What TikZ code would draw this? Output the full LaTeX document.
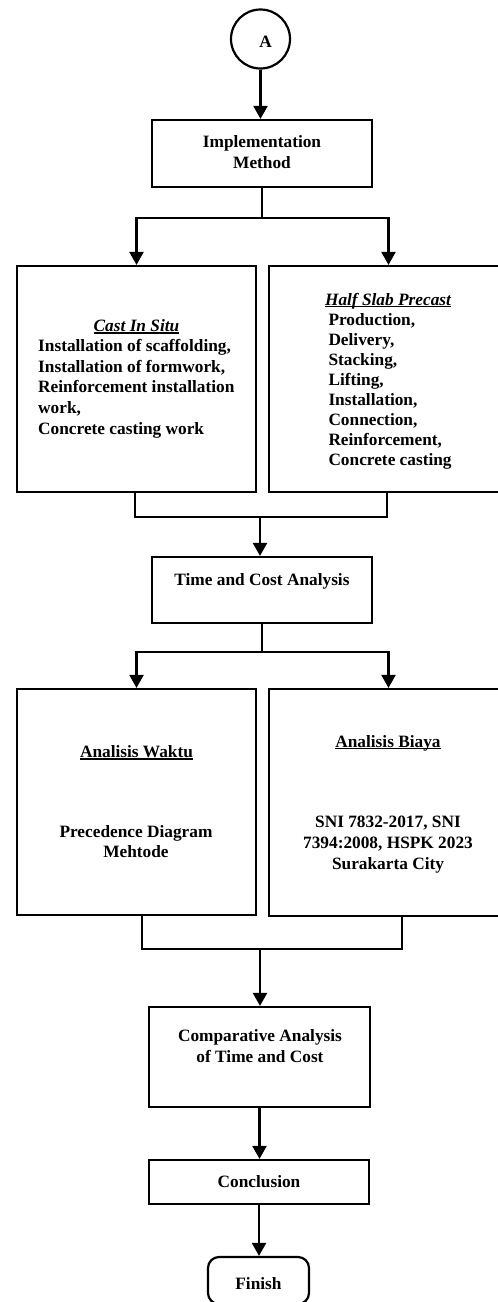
\documentclass[tikz,border=0pt]{standalone}
\usepackage{fontspec}
\setmainfont{Liberation Serif}
\usetikzlibrary{arrows.meta,calc}
\newcommand{\myul}[1]{\setbox0\hbox{#1}\rlap{\rule[-2.2pt]{\wd0}{1.3pt}}\box0}
\tikzset{
  box/.style={draw, line width=2.2pt, inner sep=0pt, rectangle},
  txt/.style={inner sep=0pt, font=\fontsize{17.3}{20.7}\bfseries\selectfont},
  conn/.style={line width=2.2pt},
  arr/.style={line width=2.2pt, -{Triangle[width=14pt,length=13pt]}}
}
\begin{document}
\begin{tikzpicture}[x=1pt,y=-1pt]
\useasboundingbox (0,0) rectangle (498,1302);
\clip (0,0) rectangle (498,1302);
% boxes
\node[box, circle, minimum size=59pt] (A) at (260.5,39) {};
\node[box, minimum width=220pt, minimum height=67pt] (impl) at (262,153.5) {};
\node[box, minimum width=239pt, minimum height=226pt] (cis) at (136.5,379) {};
\node[box, minimum width=239pt, minimum height=226pt] (hsp) at (388.5,379) {};
\node[box, minimum width=220pt, minimum height=66pt] (tca) at (262,590) {};
\node[box, minimum width=239pt, minimum height=226pt] (aw) at (136.5,802) {};
\node[box, minimum width=239pt, minimum height=227pt] (ab) at (388.5,802.5) {};
\node[box, minimum width=221pt, minimum height=100pt] (cmp) at (259.5,1057) {};
\node[box, minimum width=220pt, minimum height=44pt] (con) at (259,1182) {};
\node[box, rounded corners=11pt, minimum width=101pt, minimum height=47pt] (fin) at (258.5,1280.5) {};
% texts (base anchor = baseline of the last line)
\node[txt, anchor=base] (tA) at (265.5,47) {A};
\node[txt, font=\fontsize{17.3}{21}\bfseries\selectfont, anchor=base, align=center] (timpl) at (262,168.5) {Implementation\\Method};
\node[txt, anchor=base] (tcis) at (136.5,331.5) {\myul{\itshape Cast In Situ}};
\node[txt, anchor=base west, align=left] (tcisl) at (38,434.3) {Installation of scaffolding,\\Installation of formwork,\\Reinforcement installation\\work,\\Concrete casting work};
\node[txt, anchor=base] (thsp) at (388,305) {\myul{\itshape Half Slab Precast}};
\node[txt, font=\fontsize{17.3}{20}\bfseries\selectfont, anchor=base west, align=left] (thspl) at (328.3,465.5) {Production,\\Delivery,\\Stacking,\\Lifting,\\Installation,\\Connection,\\Reinforcement,\\Concrete casting};
\node[txt, anchor=base] (ttca) at (262,585) {Time and Cost Analysis};
\node[txt, anchor=base] (taw) at (136.5,757.5) {\myul{Analisis Waktu}};
\node[txt, font=\fontsize{17.3}{20.5}\bfseries\selectfont, anchor=base, align=center] (tawl) at (136,857.5) {Precedence Diagram\\Mehtode};
\node[txt, anchor=base] (tab) at (388,747) {\myul{Analisis Biaya}};
\node[txt, font=\fontsize{17.3}{21}\bfseries\selectfont, anchor=base, align=center] (tabl) at (388,869) {SNI 7832-2017, SNI\\7394:2008, HSPK 2023\\Surakarta City};
\node[txt, font=\fontsize{17.3}{21}\bfseries\selectfont, anchor=base, align=center] (tcmp) at (260,1062) {Comparative Analysis\\of Time and Cost};
\node[txt, anchor=base] (tcon) at (259,1187.5) {Conclusion};
\node[txt, anchor=base] (tfin) at (258.5,1289) {Finish};
% junctions
\coordinate (s1) at (262,218);
\coordinate (m1) at (260,517);
\coordinate (s2) at (262,652);
\coordinate (m2) at (260,949);
% connectors
\draw[arr] (A.south) -- (A.south |- impl.north);
\draw[conn] (impl.south) -- (s1);
\draw[arr] (s1) -| (cis.north);
\draw[arr] (s1) -| (hsp.north);
\draw[conn] ($(cis.south)+(-1.5,0)$) |- (m1) -| ($(hsp.south)+(-1.5,0)$);
\draw[arr] (m1) -- (m1 |- tca.north);
\draw[conn] (tca.south) -- (s2);
\draw[arr] (s2) -| (aw.north);
\draw[arr] (s2) -| (ab.north);
\draw[conn] ($(aw.south)+(5.5,0)$) |- (m2) -| ($(ab.south)+(13.5,0)$);
\draw[arr] (m2) -- (m2 |- cmp.north);
\draw[arr] (cmp.south) -- (cmp.south |- con.north);
\draw[arr] (con.south) -- (con.south |- fin.north);
\end{tikzpicture}
\end{document}
